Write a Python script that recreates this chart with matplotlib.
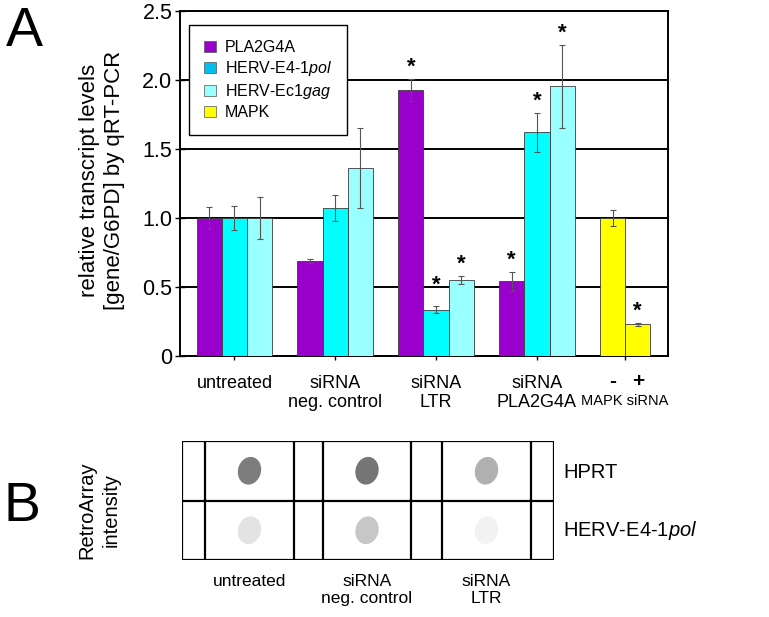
import matplotlib
matplotlib.use("Agg")
import matplotlib.pyplot as plt
from matplotlib.patches import Patch, Ellipse, Rectangle
import numpy as np

plt.rcParams['font.family'] = ['Liberation Sans', 'DejaVu Sans']
plt.rcParams['mathtext.fontset'] = 'custom'
plt.rcParams['mathtext.rm'] = 'Liberation Sans'
plt.rcParams['mathtext.it'] = 'Liberation Sans:italic'

# panel A values
groups = ['untreated', 'siRNA\nneg. control', 'siRNA\nLTR', 'siRNA\nPLA2G4A']
pla2g4a = [1.00, 0.69, 1.93, 0.54]
pla2g4a_err = [0.08, 0.015, 0.08, 0.07]
herv_pol = [1.00, 1.07, 0.335, 1.62]
herv_pol_err = [0.09, 0.095, 0.025, 0.14]
herv_gag = [1.00, 1.365, 0.55, 1.955]
herv_gag_err = [0.15, 0.29, 0.03, 0.30]
mapk_labels = ['-', '+']
mapk = [1.00, 0.23]
mapk_err = [0.06, 0.012]

# bars marked as significant: (series, index)
stars = [('pla', 2), ('pol', 2), ('gag', 2), ('pla', 3), ('pol', 3), ('gag', 3), ('mapk', 1)]

# panel B: spot darkness (0 = white, 1 = black)
blot_rows = ['HPRT', 'HERV-E4-1$\\mathit{pol}$']
blot_cols = ['untreated', 'siRNA\nneg. control', 'siRNA\nLTR']
hprt_spot = [0.51, 0.54, 0.31]
herv_spot = [0.11, 0.22, 0.05]

c_pla = '#9900CC'
c_pol = '#00FFFF'
c_gag = '#99FFFF'
c_mapk = '#FFFF00'

W, H = 769, 617
fig = plt.figure(figsize=(W / 100, H / 100), dpi=100)


def fx(px):
    return px / W


def fy(py):
    return 1 - py / H


ax = fig.add_axes([fx(180), fy(356), 488 / W, 345 / H])

xg = np.arange(len(groups)) * 4
x_pla = xg + 0.5
x_pol = xg + 1.5
x_gag = xg + 2.5
x_mapk = np.array([16.5, 17.5])

series = {
    'pla': (x_pla, pla2g4a, pla2g4a_err, c_pla),
    'pol': (x_pol, herv_pol, herv_pol_err, c_pol),
    'gag': (x_gag, herv_gag, herv_gag_err, c_gag),
    'mapk': (x_mapk, mapk, mapk_err, c_mapk),
}

for key, (xs, vals, errs, col) in series.items():
    ax.bar(xs, vals, width=1.0, color=col, edgecolor='#3a3a3a', linewidth=0.6, zorder=3)
    ax.errorbar(xs, vals, yerr=errs, fmt='none', ecolor='#555555', elinewidth=0.8,
                capsize=2.5, capthick=0.8, zorder=4)

for key, i in stars:
    xs, vals, errs, col = series[key]
    top = vals[i] + errs[i]
    extra = 0.07 if (key == 'pol' and i == 2) else 0.0
    ax.text(xs[i], top + 0.045 + extra, '*', ha='center', va='baseline',
            fontsize=16, fontweight='bold')

ax.set_xlim(-0.66, 18.7)
ax.set_ylim(0, 2.5)
ax.set_yticks([0, 0.5, 1.0, 1.5, 2.0, 2.5])
ax.set_yticklabels(['0', '0.5', '1.0', '1.5', '2.0', '2.5'], fontsize=15.5)
ax.yaxis.grid(True, color='black', linewidth=1.4)
ax.set_axisbelow(True)
for s in ax.spines.values():
    s.set_linewidth(1.4)

ax.set_xticks(list(x_pol) + [17.0])
ax.set_xticklabels(groups + [''], fontsize=13, linespacing=1.1)
ax.tick_params(axis='x', length=3, width=1, pad=11)
ax.tick_params(axis='y', length=7, width=1, pad=2, direction='inout')

trans = ax.get_xaxis_transform()
for xv, lab in zip(x_mapk, mapk_labels):
    ax.text(xv, -0.075, lab, transform=trans, ha='center', va='center',
            fontsize=15, fontweight='bold')
ax.text(17.0, -0.13, 'MAPK siRNA', transform=trans, ha='center', va='center',
        fontsize=10.5)

handles = [Patch(facecolor=c_pla, edgecolor='#555555', linewidth=0.5),
           Patch(facecolor='#00BFEF', edgecolor='#555555', linewidth=0.5),
           Patch(facecolor=c_gag, edgecolor='#555555', linewidth=0.5),
           Patch(facecolor=c_mapk, edgecolor='#555555', linewidth=0.5)]
labels = ['PLA2G4A', 'HERV-E4-1$\\mathit{pol}$', 'HERV-Ec1$\\mathit{gag}$', 'MAPK']
leg = ax.legend(handles, labels, loc='upper left', bbox_to_anchor=(0.018, 0.96),
                borderaxespad=0, fontsize=11.5, frameon=True, fancybox=False,
                edgecolor='black', framealpha=1, handlelength=0.75, handleheight=0.75,
                handletextpad=0.55, labelspacing=0.25, borderpad=0.95)
leg.get_frame().set_linewidth(1.0)
leg.set_zorder(5)

fig.text(fx(102), fy(180), 'relative transcript levels\n[gene/G6PD] by qRT-PCR',
         rotation=90, ha='center', va='center', fontsize=16, linespacing=1.2)
fig.text(fx(24), fy(32), 'A', ha='center', va='center', fontsize=40)
fig.text(fx(22), fy(507), 'B', ha='center', va='center', fontsize=40)

# panel B: RetroArray blot
bx = fig.add_axes([fx(182), fy(560), 372 / W, 119 / H])
col_w = [23, 89, 29, 88, 31, 89, 23]
edges = np.concatenate([[0], np.cumsum(col_w)])
bx.set_xlim(0, edges[-1])
bx.set_ylim(0, 119)
bx.axis('off')
bx.add_patch(Rectangle((0, 0), edges[-1], 119, fill=False, edgecolor='black', linewidth=1.6))
for e in edges[1:-1]:
    bx.plot([e, e], [0, 119], color='black', linewidth=1.6)
bx.plot([0, edges[-1]], [59.5, 59.5], color='black', linewidth=1.6)

spot_x = [(edges[k] + edges[k + 1]) / 2 for k in (1, 3, 5)]
for row_y, spots in zip([89.25, 29.75], [hprt_spot, herv_spot]):
    for sx, d in zip(spot_x, spots):
        g = 1 - d
        bx.add_patch(Ellipse((sx, row_y), 23, 28, angle=-15,
                             facecolor=(g, g, g), edgecolor='none'))

for ry, lab in zip([472, 530], blot_rows):
    fig.text(fx(563), fy(ry), lab, ha='left', va='center', fontsize=14.5)
for sx, lab in zip(spot_x, blot_cols):
    fig.text(fx(182 + sx), fy(574), lab, ha='center', va='top', fontsize=12.5,
             linespacing=1.15)

fig.text(fx(99), fy(510), 'RetroArray\nintensity', rotation=90, ha='center', va='center',
         fontsize=14.5, linespacing=1.3)

fig.savefig('out.png', dpi=100)
